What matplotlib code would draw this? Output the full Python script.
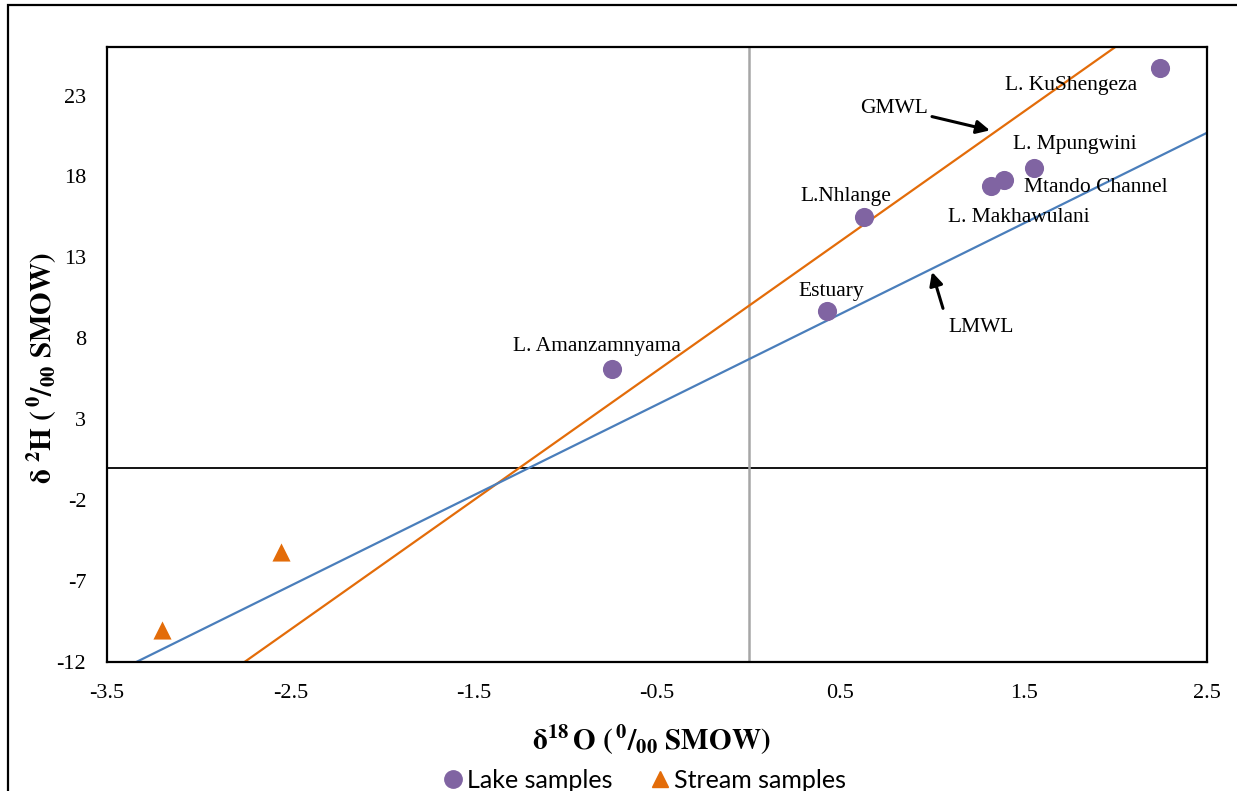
import numpy as np
import matplotlib
matplotlib.use('Agg')
import matplotlib.pyplot as plt
from matplotlib.patches import Rectangle
from matplotlib.lines import Line2D

plt.rcParams['font.family'] = ['Liberation Serif', 'DejaVu Serif']
plt.rcParams['mathtext.fontset'] = 'stix'

# lake samples (delta 18O, delta 2H)
lake_names = ['L. Amanzamnyama', 'Estuary', 'L.Nhlange', 'L. Makhawulani',
              'Mtando Channel', 'L. Mpungwini', 'L. KuShengeza']
lake_o18 = [-0.745, 0.426, 0.629, 1.320, 1.393, 1.556, 2.242]
lake_h2 = [6.1, 9.7, 15.5, 17.4, 17.8, 18.5, 24.7]

# stream samples
stream_o18 = [-2.55, -3.20]
stream_h2 = [-5.2, -10.0]

# meteoric water lines (end points)
gmwl_x = [-2.75, 2.0]
gmwl_y = [-12.0, 26.0]
lmwl_x = [-3.34, 2.5]
lmwl_y = [-12.0, 20.7]

xticks = [-3.5, -2.5, -1.5, -0.5, 0.5, 1.5, 2.5]
yticks = [-12, -7, -2, 3, 8, 13, 18, 23]

purple = '#8064a2'
orange = '#e36c09'
blue = '#4a7ebb'

fig = plt.figure(figsize=(12.37, 7.91), dpi=100)
ax = fig.add_axes([107/1237, 1 - 662/791, 1100/1237, 615/791])

# outer chart frame
fig.add_artist(Rectangle((8/1237, -0.2), 2, 1.2 - 5/791, transform=fig.transFigure,
                         fill=False, lw=1.6, ec='black'))

ax.axhline(0, color='black', lw=1.3, zorder=1)
ax.axvline(0, color='#a6a6a6', lw=1.8, zorder=1)

ax.plot(gmwl_x, gmwl_y, color=orange, lw=1.6, zorder=2)
ax.plot(lmwl_x, lmwl_y, color=blue, lw=1.6, zorder=2)

ax.scatter(lake_o18, lake_h2, s=190, color=purple, zorder=3, linewidths=0)
ax.scatter(stream_o18, stream_h2, s=170, marker='^', color=orange, zorder=3, linewidths=0)

# point labels
label_pos = {
    'L. Amanzamnyama': (-1.285, 7.5),
    'Estuary': (0.269, 10.9),
    'L.Nhlange': (0.28, 16.75),
    'L. Makhawulani': (1.087, 15.45),
    'Mtando Channel': (1.502, 17.3),
    'L. Mpungwini': (1.442, 20.0),
    'L. KuShengeza': (1.398, 23.65),
}
for name in lake_names:
    x, y = label_pos[name]
    ax.text(x, y, name, fontsize=15.5, ha='left', va='center', zorder=4)

arrow = dict(arrowstyle='-|>', color='black', lw=2.2, mutation_scale=20,
             shrinkA=0, shrinkB=0)
ax.text(0.607, 22.2, 'GMWL', fontsize=15.5, ha='left', va='center')
ax.annotate('', xy=(1.316, 20.85), xytext=(1.0, 21.7), arrowprops=arrow)
ax.annotate('', xy=(1.0, 12.1), xytext=(1.06, 9.85), arrowprops=arrow)
ax.text(1.087, 8.64, 'LMWL', fontsize=15.5, ha='left', va='center')

ax.set_xlim(-3.5, 2.5)
ax.set_ylim(-12, 26)
ax.set_xticks(xticks)
ax.set_xticklabels(['%.1f' % v for v in xticks])
ax.set_yticks(yticks)
ax.set_yticklabels([str(v) for v in yticks])
ax.tick_params(axis='both', length=0, labelsize=16)
ax.tick_params(axis='x', pad=16)
ax.tick_params(axis='y', pad=15)
for s in ax.spines.values():
    s.set_linewidth(1.6)
    s.set_color('black')

fig.text(651/1237, 1 - 740/791, r'$\mathbf{\delta^{18}\,O\ (\,^{0}/_{00}\ SMOW)}$',
         fontsize=21, ha='center', va='center')
fig.text(42/1237, 1 - 368/791, r'$\mathbf{\delta\ ^{2}H\ (\,^{0}/_{00}\ SMOW)}$',
         fontsize=21, ha='center', va='center', rotation=90)

handles = [Line2D([], [], marker='o', color=purple, ls='', markersize=12.5),
           Line2D([], [], marker='^', color=orange, ls='', markersize=12)]
fig.legend(handles, ['Lake samples', 'Stream samples'], loc='center',
           bbox_to_anchor=(643/1237, 1 - 780/791), ncol=2, frameon=False,
           prop={'family': 'Lato', 'size': 18}, handletextpad=0.05,
           columnspacing=1.4, handlelength=1.0, borderpad=0)

fig.savefig('out.png', dpi=100)
